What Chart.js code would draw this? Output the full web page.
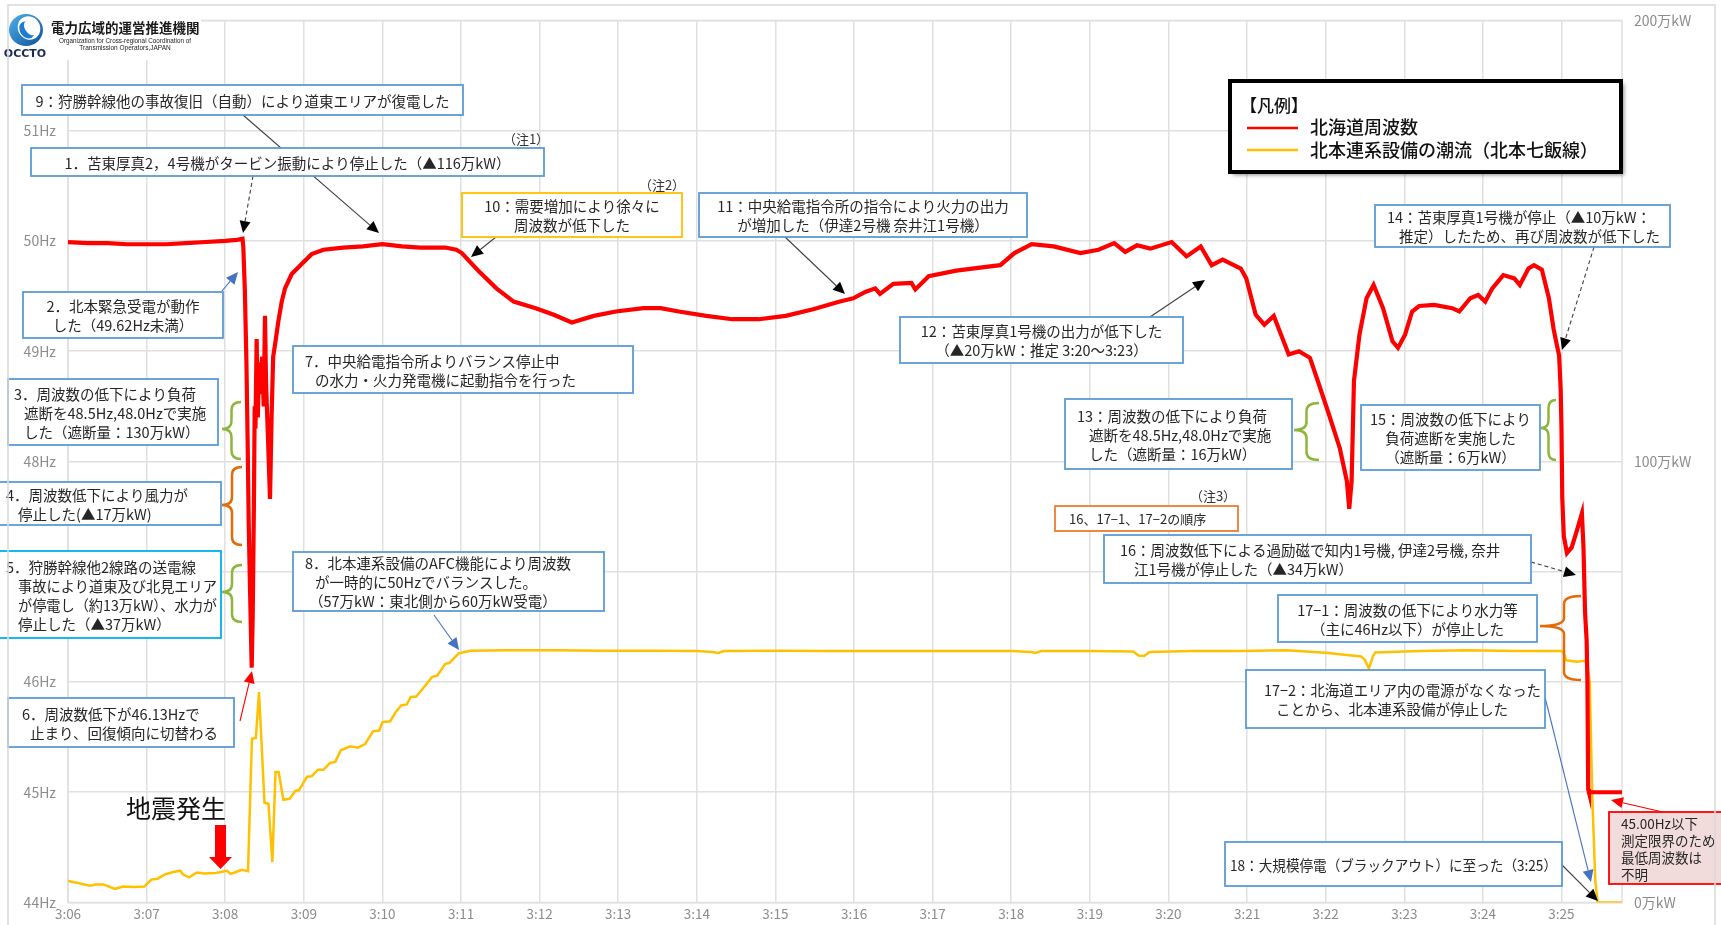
<!DOCTYPE html>
<html lang="ja">
<head>
<meta charset="utf-8">
<title>北海道周波数と北本連系設備の潮流</title>
<script src="https://cdn.jsdelivr.net/npm/chart.js@4"></script>
<style>
  html, body { margin: 0; padding: 0; background: #fff; }
  #wrap { width: 1721px; height: 925px; }
</style>
</head>
<body>
<div id="wrap"><canvas id="grafica-frecuencia" width="1721" height="925"></canvas></div>
<script>
// x = minutes after 3:00
const xTickValues = [6, 7, 8, 9, 10, 11, 12, 13, 14, 15, 16, 17, 18, 19, 20, 21, 22, 23, 24, 25];
const xTickLabels = ['3:06', '3:07', '3:08', '3:09', '3:10', '3:11', '3:12', '3:13', '3:14', '3:15',
                     '3:16', '3:17', '3:18', '3:19', '3:20', '3:21', '3:22', '3:23', '3:24', '3:25'];

// 北海道周波数 (Hz)
const freqTime = [
  6.00, 6.25, 6.50, 6.75, 7.00, 7.25, 7.50, 7.75, 8.00, 8.15, 8.22,
  8.23, 8.25, 8.27, 8.285, 8.30, 8.32, 8.337, 8.35, 8.365, 8.375, 8.385, 8.40, 8.415, 8.43, 8.443,
  8.47, 8.49, 8.506, 8.52, 8.545, 8.57, 8.59, 8.61, 8.634, 8.676, 8.719, 8.761, 8.846, 8.973,
  9.10, 9.25, 9.50, 9.75, 10.00, 10.25, 10.48, 10.80, 10.94, 11.01, 11.22, 11.45, 11.67, 11.95,
  12.18, 12.41, 12.69, 12.97, 13.32, 13.54, 13.77, 14.12, 14.45, 14.79, 15.13, 15.48, 15.82, 15.99,
  16.15, 16.27, 16.33, 16.50, 16.73, 16.78, 16.95, 17.30, 17.63, 17.86, 18.04, 18.26, 18.54, 18.88,
  19.11, 19.31, 19.45, 19.60, 19.77, 20.04, 20.23, 20.41, 20.55, 20.69, 20.92, 20.99, 21.11, 21.22,
  21.34, 21.53, 21.66, 21.80, 21.90, 22.04, 22.18, 22.27, 22.30, 22.33, 22.36, 22.43, 22.52, 22.61,
  22.73, 22.85, 22.92, 23.01, 23.10, 23.19, 23.38, 23.61, 23.70, 23.84, 23.94, 24.03, 24.12, 24.26,
  24.40, 24.47, 24.58, 24.65, 24.75, 24.84, 24.90, 24.94, 24.97, 24.99, 25.00, 25.01, 25.03, 25.07,
  25.13, 25.19, 25.26, 25.28, 25.30, 25.32, 25.33, 25.34, 25.35, 25.77
];
const freqHz = [
  49.99, 49.98, 49.98, 49.97, 49.97, 49.97, 49.98, 49.99, 50.00, 50.01, 50.02,
  49.95, 49.55, 48.90, 48.20, 47.40, 46.70, 46.13, 46.60, 47.60, 48.50, 48.30, 49.11, 48.40, 48.90, 48.61,
  48.95, 48.50, 49.32, 48.70, 48.20, 47.66, 48.40, 48.95, 49.06, 49.27, 49.45, 49.57, 49.70, 49.79,
  49.88, 49.92, 49.94, 49.95, 49.97, 49.95, 49.94, 49.94, 49.92, 49.89, 49.73, 49.57, 49.45, 49.39,
  49.33, 49.26, 49.32, 49.36, 49.39, 49.39, 49.36, 49.32, 49.29, 49.29, 49.32, 49.38, 49.45, 49.48,
  49.54, 49.57, 49.52, 49.61, 49.62, 49.56, 49.68, 49.73, 49.76, 49.78, 49.89, 49.97, 49.95, 49.89,
  49.92, 49.98, 49.90, 49.96, 49.93, 49.99, 49.86, 49.95, 49.78, 49.83, 49.75, 49.66, 49.33, 49.24,
  49.32, 48.97, 49.00, 48.94, 48.73, 48.43, 48.12, 47.82, 47.57, 47.82, 48.73, 49.15, 49.48, 49.60,
  49.39, 49.09, 49.03, 49.15, 49.36, 49.41, 49.42, 49.39, 49.36, 49.48, 49.51, 49.45, 49.57, 49.69,
  49.66, 49.60, 49.75, 49.78, 49.74, 49.48, 49.20, 49.06, 48.96, 48.65, 48.30, 47.67, 47.32, 47.17,
  47.22, 47.36, 47.53, 47.22, 46.63, 46.38, 46.00, 45.03, 45.00, 45.00
];

// 北本連系設備の潮流 (万kW)
const flowTime = [
  6.00, 6.11, 6.18, 6.28, 6.35, 6.45, 6.55, 6.60, 6.70, 6.84, 6.97, 7.06, 7.14, 7.24, 7.34, 7.43,
  7.46, 7.54, 7.64, 7.73, 7.88, 8.02, 8.07, 8.12, 8.21, 8.29, 8.34, 8.39, 8.43, 8.50, 8.55, 8.60,
  8.64, 8.68, 8.74, 8.82, 8.89, 8.94, 9.04, 9.10, 9.18, 9.25, 9.33, 9.40, 9.47, 9.59, 9.69, 9.78,
  9.81, 9.88, 9.96, 10.00, 10.10, 10.17, 10.24, 10.31, 10.36, 10.43, 10.51, 10.63, 10.70, 10.80,
  10.85, 10.97, 11.12, 11.60, 12.20, 12.80, 13.40, 14.00, 14.20, 14.27, 14.35, 15.00, 15.60, 16.20,
  16.80, 17.40, 18.00, 18.25, 18.31, 18.38, 19.00, 19.55, 19.62, 19.69, 19.76, 20.30, 20.90, 21.50,
  22.00, 22.45, 22.50, 22.55, 22.60, 22.63, 23.20, 23.80, 24.40, 25.00, 25.03, 25.06, 25.20, 25.30,
  25.33, 25.36, 25.39, 25.43, 25.46, 25.77
];
const flowMan = [
  4.9, 4.5, 4.2, 3.8, 4.1, 4.1, 3.4, 3.1, 3.6, 3.5, 3.6, 5.2, 5.4, 6.4, 6.9, 7.2,
  6.4, 5.7, 6.8, 6.6, 6.7, 7.2, 6.5, 6.8, 7.4, 7.1, 37.1, 37.3, 47.7, 22.6, 22.4, 9.2,
  29.6, 29.6, 23.3, 23.5, 25.3, 25.5, 28.5, 28.6, 30.1, 30.1, 31.6, 31.9, 34.5, 35.4, 35.1, 35.9,
  36.8, 38.8, 39.0, 40.9, 41.1, 43.2, 44.7, 44.9, 46.6, 46.7, 48.4, 51.1, 51.5, 54.1,
  54.3, 56.5, 57.1, 57.2, 57.2, 57.1, 57.1, 57.0, 56.8, 56.6, 57.0, 57.1, 57.0, 57.0,
  57.0, 57.0, 57.0, 56.8, 56.6, 57.0, 57.0, 56.9, 56.0, 55.9, 56.8, 57.0, 57.0, 57.2,
  56.6, 55.8, 55.0, 53.0, 55.8, 56.7, 57.0, 57.2, 57.0, 57.0, 56.5, 54.9, 54.6, 54.8,
  54.0, 50.0, 25.0, 5.0, 0.0, 0.0
];

const FONT = '"Noto Sans CJK JP", "Noto Sans", sans-serif';
const AZUL = '#5B9BD5';

// 吹き出し (x, y, ancho, alto en px del lienzo)
const notas = [
  { x: 22, y: 85, w: 441, h: 30, lines: ['9：狩勝幹線他の事故復旧（自動）により道東エリアが復電した'] },
  { x: 31, y: 148, w: 513, h: 28, lines: ['1．苫東厚真2，4号機がタービン振動により停止した（▲116万kW）'] },
  { x: 23, y: 292, w: 200, h: 46, lines: ['2．北本緊急受電が動作', 'した（49.62Hz未満）'] },
  { x: 8, y: 379, w: 210, h: 66, align: 'left', ind: [0, 10, 10], lines: ['3．周波数の低下により負荷', '遮断を48.5Hz,48.0Hzで実施', 'した（遮断量：130万kW）'] },
  { x: -2, y: 482, w: 223, h: 43, align: 'left', ind: [0, 12], lines: ['4．周波数低下により風力が', '停止した(▲17万kW)'] },
  { x: -2, y: 551, w: 223, h: 87, color: '#00B0F0', align: 'left', ind: [0, 12, 12, 12], lines: ['5．狩勝幹線他2線路の送電線', '事故により道東及び北見エリア', 'が停電し（約13万kW）、水力が', '停止した（▲37万kW）'] },
  { x: 8, y: 698, w: 226, h: 49, align: 'left', ind: [8, 16], lines: ['6．周波数低下が46.13Hzで', '止まり、回復傾向に切替わる'] },
  { x: 293, y: 346, w: 340, h: 47, align: 'left', ind: [6, 16], lines: ['7．中央給電指令所よりバランス停止中', 'の水力・火力発電機に起動指令を行った'] },
  { x: 293, y: 552, w: 311, h: 59, align: 'left', ind: [6, 16, 10], lines: ['8．北本連系設備のAFC機能により周波数', 'が一時的に50Hzでバランスした。', '（57万kW：東北側から60万kW受電）'] },
  { x: 462, y: 193, w: 220, h: 44, color: '#FFC000', lines: ['10：需要増加により徐々に', '周波数が低下した'] },
  { x: 699, y: 193, w: 328, h: 44, lines: ['11：中央給電指令所の指令により火力の出力', 'が増加した（伊達2号機 奈井江1号機）'] },
  { x: 900, y: 317, w: 283, h: 46, lines: ['12：苫東厚真1号機の出力が低下した', '（▲20万kW：推定 3:20～3:23）'] },
  { x: 1065, y: 399, w: 227, h: 70, align: 'left', ind: [6, 18, 18], lines: ['13：周波数の低下により負荷', '遮断を48.5Hz,48.0Hzで実施', 'した（遮断量：16万kW）'] },
  { x: 1375, y: 205, w: 295, h: 42, align: 'left', ind: [6, 18], lines: ['14：苫東厚真1号機が停止（▲10万kW：', '推定）したため、再び周波数が低下した'] },
  { x: 1361, y: 405, w: 179, h: 65, lines: ['15：周波数の低下により', '負荷遮断を実施した', '（遮断量：6万kW）'] },
  { x: 1055, y: 506, w: 183, h: 25, color: '#ED7D31', align: 'left', ind: [8], size: 13, lines: ['16、17−1、17−2の順序'] },
  { x: 1104, y: 535, w: 427, h: 48, align: 'left', ind: [10, 24], lines: ['16：周波数低下による過励磁で知内1号機, 伊達2号機, 奈井', '江1号機が停止した（▲34万kW）'] },
  { x: 1278, y: 595, w: 259, h: 47, lines: ['17−1：周波数の低下により水力等', '（主に46Hz以下）が停止した'] },
  { x: 1246, y: 670, w: 299, h: 58, align: 'left', ind: [12, 24], lines: ['17−2：北海道エリア内の電源がなくなった', 'ことから、北本連系設備が停止した'] },
  { x: 1225, y: 842, w: 337, h: 44, lines: ['18：大規模停電（ブラックアウト）に至った（3:25）'] },
  { x: 1609, y: 812, w: 114, h: 72, color: '#FF0000', fill: '#F2DCDB', align: 'left', ind: [6, 6, 6, 6], size: 13.5, lh: 17, lines: ['45.00Hz以下', '測定限界のため', '最低周波数は', '不明'] }
];

// flechas: desde (x1,y1) hasta la punta (x2,y2)
const flechas = [
  { p: [243, 115, 379, 233], c: '#404040', h: '#000' },
  { p: [253, 176, 243, 233], c: '#404040', h: '#000', dash: true },
  { p: [222, 291, 238, 272], c: '#4472C4' },
  { p: [240, 721, 252, 671], c: '#FF0000' },
  { p: [434, 615, 459, 650], c: '#4472C4' },
  { p: [496, 237, 471, 257], c: '#404040', h: '#000' },
  { p: [785, 237, 845, 294], c: '#404040', h: '#000' },
  { p: [1150, 317, 1205, 280], c: '#404040', h: '#000' },
  { p: [1594, 247, 1562, 350], c: '#404040', h: '#000', dash: true },
  { p: [1531, 562, 1576, 575], c: '#404040', h: '#000', dash: true },
  { p: [1545, 697, 1591, 882], c: '#4472C4' },
  { p: [1562, 865, 1598, 901], c: '#404040', h: '#000' },
  { p: [1667, 813, 1611, 800], c: '#FF0000' }
];

// llaves: punta x, extremo x, arriba, abajo, punta y
const llaves = [
  { v: [222, 241, 402, 459, 429], c: '#8DB63C' },
  { v: [222, 242, 467, 545, 505], c: '#E36C09' },
  { v: [222, 242, 565, 622, 592], c: '#8DB63C' },
  { v: [1294, 1319, 403, 460, 430], c: '#8DB63C' },
  { v: [1541, 1556, 400, 460, 428], c: '#8DB63C' },
  { v: [1540, 1581, 596, 680, 626], c: '#E36C09', xs: 1564 }
];

function dibujarFlecha(ctx, f) {
  const [x1, y1, x2, y2] = f.p;
  const a = Math.atan2(y2 - y1, x2 - x1), hl = 12, hw = 5.5;
  const bx = x2 - hl * Math.cos(a), by = y2 - hl * Math.sin(a);
  ctx.save();
  ctx.strokeStyle = f.c;
  ctx.lineWidth = 1.1;
  if (f.dash) ctx.setLineDash([4, 3]);
  ctx.beginPath(); ctx.moveTo(x1, y1); ctx.lineTo(bx, by); ctx.stroke();
  ctx.setLineDash([]);
  ctx.fillStyle = f.h || f.c;
  ctx.beginPath();
  ctx.moveTo(x2, y2);
  ctx.lineTo(bx + hw * Math.sin(a), by - hw * Math.cos(a));
  ctx.lineTo(bx - hw * Math.sin(a), by + hw * Math.cos(a));
  ctx.closePath(); ctx.fill();
  ctx.restore();
}

function dibujarLlave(ctx, l) {
  const [xt, xe, top, bot, yt] = l.v;
  const xs = l.xs || (xt + xe) / 2, r = 8;
  ctx.save();
  ctx.strokeStyle = l.c; ctx.lineWidth = 2.5;
  ctx.beginPath();
  ctx.moveTo(xe, top);
  ctx.quadraticCurveTo(xs, top, xs, top + r);
  ctx.lineTo(xs, yt - r);
  ctx.quadraticCurveTo(xs, yt, xt, yt);
  ctx.quadraticCurveTo(xs, yt, xs, yt + r);
  ctx.lineTo(xs, bot - r);
  ctx.quadraticCurveTo(xs, bot, xe, bot);
  ctx.stroke();
  ctx.restore();
}

function dibujarNota(ctx, n) {
  ctx.save();
  ctx.fillStyle = n.fill || '#fff';
  ctx.fillRect(n.x, n.y, n.w, n.h);
  ctx.lineWidth = 1.8;
  ctx.strokeStyle = n.color || AZUL;
  ctx.strokeRect(n.x, n.y, n.w, n.h);
  ctx.fillStyle = '#262626';
  ctx.font = (n.size || 14.5) + 'px ' + FONT;
  ctx.textBaseline = 'middle';
  const lh = n.lh || 19;
  const y0 = n.y + n.h / 2 - (n.lines.length - 1) * lh / 2 + 1;
  n.lines.forEach((t, i) => {
    if (n.align === 'left') {
      ctx.textAlign = 'left';
      const x = Math.max(n.x, 0) + 6 + (n.ind ? n.ind[i] : 0);
      ctx.fillText(t, x, y0 + i * lh, n.x + n.w - x - 4);
    } else {
      ctx.textAlign = 'center';
      ctx.fillText(t, n.x + n.w / 2, y0 + i * lh, n.w - 10);
    }
  });
  ctx.restore();
}

function dibujarLogo(ctx) {
  ctx.save();
  ctx.fillStyle = '#fff';
  ctx.fillRect(9, 14, 192, 46);
  const g = ctx.createLinearGradient(10, 12, 44, 48);
  g.addColorStop(0, '#4FB3EA');
  g.addColorStop(1, '#0B4C9C');
  ctx.fillStyle = g;
  ctx.beginPath(); ctx.ellipse(26, 30, 17, 16, 0, 0, Math.PI * 2); ctx.fill();
  ctx.fillStyle = '#fff';
  ctx.beginPath(); ctx.ellipse(29, 28, 11, 12, -0.6, 0, Math.PI * 2); ctx.fill();
  ctx.fillStyle = '#1F7BD0';
  ctx.beginPath(); ctx.ellipse(27, 30, 7, 9, -0.6, 0, Math.PI * 2); ctx.fill();
  ctx.fillStyle = '#fff';
  ctx.beginPath(); ctx.ellipse(30, 28, 5, 8, -0.6, 0, Math.PI * 2); ctx.fill();
  ctx.fillStyle = '#1B2A55';
  ctx.font = 'bold 11px "DejaVu Sans", sans-serif';
  ctx.textAlign = 'center'; ctx.textBaseline = 'middle';
  ctx.fillText('OCCTO', 25, 54);
  ctx.fillStyle = '#1a1a1a';
  ctx.font = 'bold 13.5px ' + FONT;
  ctx.textAlign = 'left';
  ctx.fillText('電力広域的運営推進機関', 51, 28, 150);
  ctx.font = '6.5px "Liberation Sans", sans-serif';
  ctx.textAlign = 'center';
  ctx.fillText('Organization for Cross-regional Coordination of', 125, 41, 132);
  ctx.fillText('Transmission Operators,JAPAN', 125, 48);
  ctx.restore();
}

function dibujarLeyenda(ctx) {
  ctx.save();
  ctx.shadowColor = 'rgba(0,0,0,0.45)';
  ctx.shadowBlur = 4; ctx.shadowOffsetX = 3; ctx.shadowOffsetY = 3;
  ctx.fillStyle = '#fff';
  ctx.fillRect(1230, 81, 391, 91);
  ctx.shadowColor = 'transparent';
  ctx.lineWidth = 4; ctx.strokeStyle = '#000';
  ctx.strokeRect(1230, 81, 391, 91);
  ctx.fillStyle = '#111';
  ctx.textBaseline = 'middle'; ctx.textAlign = 'left';
  ctx.font = '500 17px ' + FONT;
  ctx.fillText('【凡例】', 1240, 106);
  ctx.lineWidth = 2.5;
  ctx.strokeStyle = '#FF0000';
  ctx.beginPath(); ctx.moveTo(1247, 128); ctx.lineTo(1298, 128); ctx.stroke();
  ctx.strokeStyle = '#FFC000';
  ctx.beginPath(); ctx.moveTo(1247, 150); ctx.lineTo(1298, 150); ctx.stroke();
  ctx.font = '500 18px ' + FONT;
  ctx.fillText('北海道周波数', 1310, 127);
  ctx.fillText('北本連系設備の潮流（北本七飯線）', 1310, 150, 298);
  ctx.restore();
}

const anotaciones = {
  id: 'anotaciones',
  beforeDatasetsDraw(chart) {
    const { ctx, chartArea: a } = chart;
    ctx.save();
    ctx.strokeStyle = '#e0e0e0'; ctx.lineWidth = 1.5;
    ctx.strokeRect(a.left, a.top, a.right - a.left, a.bottom - a.top);
    ctx.restore();
  },
  afterDatasetsDraw(chart) {
    const ctx = chart.ctx;
    flechas.forEach(f => dibujarFlecha(ctx, f));
    llaves.forEach(l => dibujarLlave(ctx, l));
    notas.forEach(n => dibujarNota(ctx, n));

    ctx.save();
    ctx.fillStyle = '#333';
    ctx.font = '13px ' + FONT;
    ctx.textAlign = 'center'; ctx.textBaseline = 'middle';
    ctx.fillText('（注1）', 526, 139);
    ctx.fillText('（注2）', 662, 185);
    ctx.fillText('（注3）', 1213, 496);
    ctx.fillStyle = '#111';
    ctx.font = '25px ' + FONT;
    ctx.fillText('地震発生', 176, 808);
    ctx.fillStyle = '#FF0000';
    ctx.beginPath();
    ctx.moveTo(215, 825); ctx.lineTo(226, 825); ctx.lineTo(226, 857);
    ctx.lineTo(232, 857); ctx.lineTo(220.5, 869); ctx.lineTo(209, 857);
    ctx.lineTo(215, 857); ctx.closePath(); ctx.fill();
    ctx.restore();

    dibujarLeyenda(ctx);
    dibujarLogo(ctx);

    ctx.save();
    ctx.strokeStyle = '#d9d9d9'; ctx.lineWidth = 1.5;
    ctx.beginPath();
    ctx.moveTo(8, 925); ctx.lineTo(8, 5); ctx.lineTo(1715, 5); ctx.lineTo(1715, 925);
    ctx.stroke();
    ctx.restore();
  }
};

const ctx = document.getElementById('grafica-frecuencia').getContext('2d');
new Chart(ctx, {
  type: 'line',
  data: {
    datasets: [
      {
        label: '北海道周波数',
        data: freqTime.map((t, i) => ({ x: t, y: freqHz[i] })),
        borderColor: '#FF0000',
        borderWidth: 4.2,
        pointRadius: 0,
        tension: 0,
        yAxisID: 'y'
      },
      {
        label: '北本連系設備の潮流（北本七飯線）',
        data: flowTime.map((t, i) => ({ x: t, y: flowMan[i] })),
        borderColor: '#FFC000',
        borderWidth: 2.5,
        pointRadius: 0,
        tension: 0,
        yAxisID: 'y1'
      }
    ]
  },
  options: {
    responsive: false,
    animation: false,
    devicePixelRatio: 1,
    layout: { padding: { top: 19.5, left: 0, right: 0, bottom: 0 } },
    plugins: { legend: { display: false }, tooltip: { enabled: false } },
    scales: {
      x: {
        type: 'linear',
        min: 6,
        max: 25.77,
        afterBuildTicks: s => { s.ticks = xTickValues.map(v => ({ value: v })); },
        afterFit: s => { s.height = 22.5; },
        grid: { color: '#e0e0e0', lineWidth: 1.5, drawTicks: false },
        border: { display: false },
        ticks: {
          callback: (v, i) => xTickLabels[i],
          color: '#8c8c8c',
          font: { family: FONT, size: 13.5 },
          padding: 3,
          maxRotation: 0,
          autoSkip: false
        }
      },
      y: {
        position: 'left',
        min: 44,
        max: 52,
        afterFit: s => { s.width = 68; },
        grid: { color: '#e0e0e0', lineWidth: 1.5, drawTicks: false },
        border: { display: false },
        ticks: {
          stepSize: 1,
          callback: v => (v === 52 ? '' : v + 'Hz'),
          color: '#8c8c8c',
          font: { family: FONT, size: 14 },
          padding: 12
        }
      },
      y1: {
        position: 'right',
        min: 0,
        max: 200,
        afterFit: s => { s.width = 99; },
        grid: { drawOnChartArea: false, drawTicks: false },
        border: { display: false },
        ticks: {
          stepSize: 100,
          callback: v => v + '万kW',
          color: '#8c8c8c',
          font: { family: FONT, size: 14 },
          padding: 12
        }
      }
    }
  },
  plugins: [anotaciones]
});
</script>
</body>
</html>
